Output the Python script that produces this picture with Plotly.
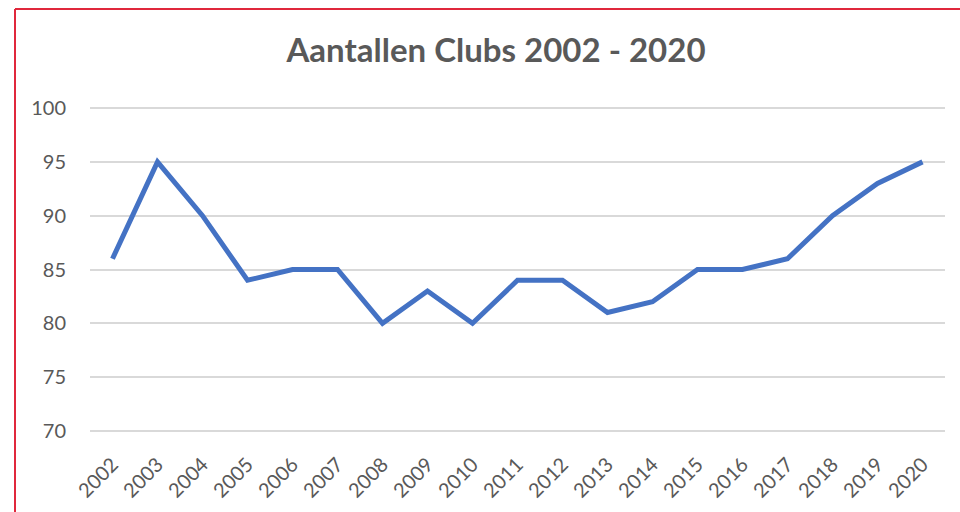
import plotly.graph_objects as go

years = [str(y) for y in range(2002, 2021)]
clubs = [86, 95, 90, 84, 85, 85, 80, 83, 80, 84, 84, 81, 82, 85, 85, 86, 90, 93, 95]
y_ticks = [70, 75, 80, 85, 90, 95, 100]

W, H = 960, 512
L, R, T, B = 90, 15, 107, 80
pw, ph = W - L - R, H - T - B

def px_x(p):
    return (p - L) / pw

def px_y(p):
    return (H - B - p) / ph

FONT = "Lato"

fig = go.Figure()
fig.add_trace(go.Scatter(
    x=years, y=clubs, mode="lines",
    line=dict(color="#4472C4", width=5),
    hoverinfo="x+y",
))

border = dict(color="#E0283C", width=2)
fig.add_shape(type="line", xref="paper", yref="paper",
              x0=px_x(15), x1=px_x(15), y0=px_y(9), y1=px_y(600), line=border)
fig.add_shape(type="line", xref="paper", yref="paper",
              x0=px_x(15), x1=px_x(1000), y0=px_y(9), y1=px_y(9), line=border)

fig.update_layout(
    width=W, height=H,
    margin=dict(l=L, r=R, t=T, b=B),
    paper_bgcolor="white", plot_bgcolor="white",
    showlegend=False,
    title=dict(text="<b>Aantallen Clubs 2002 - 2020</b>", x=496 / W, xanchor="center",
               y=1 - 50 / H, yanchor="middle", yref="container",
               font=dict(family=FONT, size=33, color="#595959")),
    font=dict(family=FONT, color="#595959"),
    xaxis=dict(type="category", range=[-0.5, len(years) - 0.5], showgrid=False,
               showline=False, ticks="", tickangle=-45, ticklabelstandoff=16,
               automargin=False,
               tickfont=dict(size=20, color="#595959")),
    yaxis=dict(range=[69.9, 100.1], tickvals=y_ticks, showgrid=True, gridcolor="#D9D9D9",
               gridwidth=1.5, zeroline=False, showline=False, ticks="",
               ticklabelstandoff=23, automargin=False,
               tickfont=dict(size=20, color="#595959")),
)

fig.write_html("out.html", config={"displayModeBar": False},
               post_script="document.body.style.margin='0';document.body.style.overflow='hidden';")
